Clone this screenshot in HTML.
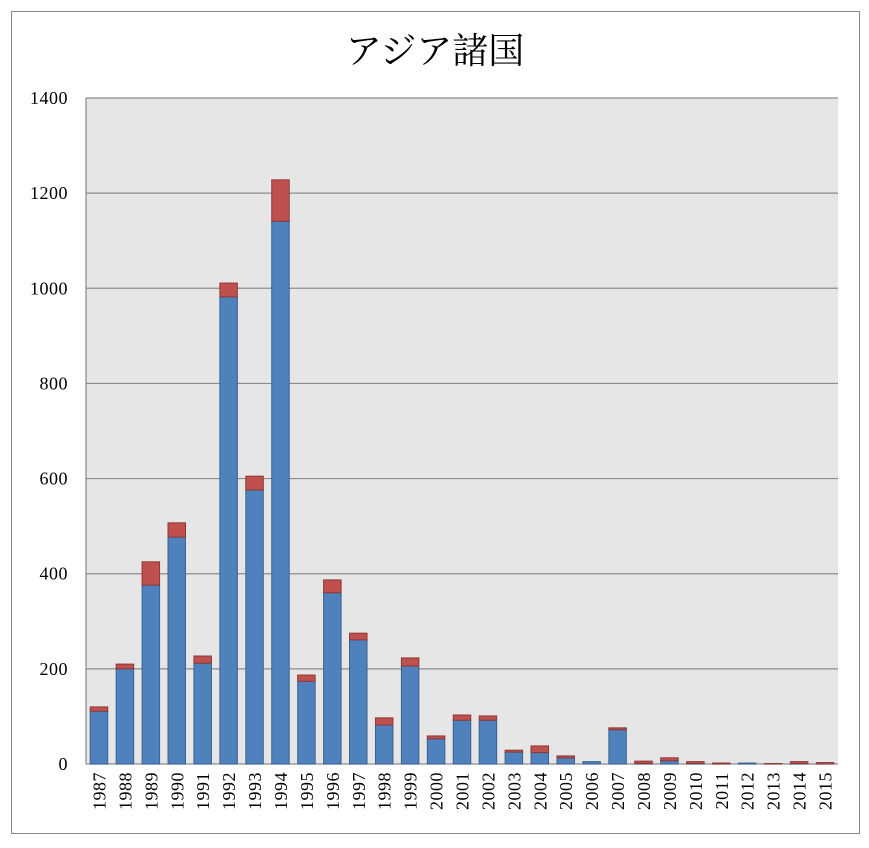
<!DOCTYPE html>
<html><head><meta charset="utf-8">
<style>
html,body{margin:0;padding:0;background:#fff;}
svg text{font-family:"Liberation Serif","Noto Serif CJK SC",serif;fill:#000;}
</style></head>
<body>
<svg id="chart" width="869" height="843" xmlns="http://www.w3.org/2000/svg">
<rect x="11.5" y="11.5" width="848" height="822" fill="#fff" stroke="#888" stroke-width="1"/>
<text x="435" y="63" text-anchor="middle" font-size="36">アジア諸国</text>
<rect x="86" y="98" width="752" height="666" fill="#e6e6e6"/>
<g id="grid"></g><g id="bars"></g><g id="ylabels"></g><g id="xlabels"></g>
</svg>
<script>
const categories=["1987","1988","1989","1990","1991","1992","1993","1994","1995","1996","1997","1998","1999","2000","2001","2002","2003","2004","2005","2006","2007","2008","2009","2010","2011","2012","2013","2014","2015"];
const blueValues=[111,200,376,477,212,982,576,1141,174,360,261,82,206,53,92,92,25,24,13,5,72,1,7,1,0,2,0,1,0];
const redValues=[9,10,49,30,15,29,29,87,13,27,14,15,17,6,11,9,4,14,4,0,4,5,6,4,2,0,1,4,3];
const yTicks=[0,200,400,600,800,1000,1200,1400];
const NS="http://www.w3.org/2000/svg";
const X0=86,X1=838,Y0=764,Y1=98,YMAX=1400;
const band=(X1-X0)/categories.length,bw=17.5;
function y(v){return Y0-(v/YMAX)*(Y0-Y1);}
function xc(i){return X0+band*(i+0.5);}
function mk(tag,attrs,parent){const e=document.createElementNS(NS,tag);for(const k in attrs)e.setAttribute(k,attrs[k]);document.getElementById(parent).appendChild(e);return e;}
yTicks.forEach(t=>{
  const l=mk('line',{x1:X0,x2:X1,y1:y(t),y2:y(t),stroke:'#8c8c8c','stroke-width':1.2},'grid');
  
  
  const tx=mk('text',{x:68,y:y(t)+6,'text-anchor':'end','font-size':18,'letter-spacing':'0.5'},'ylabels');
  tx.textContent=t;
  
  
});
const ax=mk('line',{x1:X0,x2:X0,y1:Y1,y2:Y0,stroke:'#888','stroke-width':1.2},'grid');


categories.forEach((c,i)=>{
  const b=blueValues[i],r=redValues[i];
  const x=xc(i)-bw/2;
  if(b>0){const rb=mk('rect',{x:x,y:y(b),width:bw,height:y(0)-y(b),fill:'#4f81bd',stroke:'#3a6294','stroke-width':1},'bars');
  
  }
  if(r>0){const rr=mk('rect',{x:x,y:y(b+r),width:bw,height:y(b)-y(b+r),fill:'#c0504d',stroke:'#8c3836','stroke-width':1},'bars');
  
  }
  const t=mk('text',{x:0,y:0,'text-anchor':'end','font-size':18,'letter-spacing':'0.5',transform:'translate('+(xc(i)+6.5)+',772) rotate(-90)'},'xlabels');
  t.textContent=c;
  
  
});
</script>
</body></html>
